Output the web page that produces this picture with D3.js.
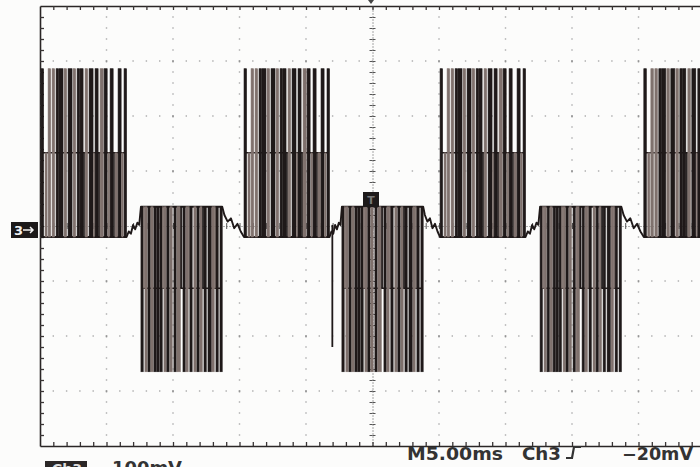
<!DOCTYPE html>
<html><head><meta charset="utf-8">
<script src="https://cdn.jsdelivr.net/npm/d3@7"></script>
<style>
html,body{margin:0;padding:0;background:#fcfcfb;}
svg{display:block;}
</style></head><body>
<svg id="scope" width="700" height="467"></svg>
<script>
// Screen scales: 10 divisions of 5 ms, 8 divisions of 100 mV
const msPerDiv = 5, timeDivs = 10;
const mvPerDiv = 100, voltDivs = 8;

// Switching bursts: start time (ms) and polarity of each half-cycle
const burstStart = [0.08, 7.59, 15.34, 22.7, 30.08, 37.6, 45.4];
const burstPolarity = [1, -1, 1, -1, 1, -1, 1];

// Voltage levels (mV): resting level, intermediate step, outer level
const posLevels = {base: -20, mid: 133, far: 286};
const negLevels = {base: 35, mid: -113, far: -265};

// Positive half-cycle pulse train: offset (ms), width (ms), shade, reach (F = outer, M = step)
const posOffset = [0,0.30,0.53,0.83,1.13,1.35,1.73,2.03,2.41,2.71,2.93,3.18,3.31,3.61,3.95,4.06,4.32,4.44,4.74,5.04,5.19,5.45,5.56,5.79,6.07,6.24];
const posWidth  = [0.19,0.15,0.19,0.19,0.19,0.30,0.19,0.30,0.19,0.19,0.23,0.10,0.19,0.30,0.08,0.23,0.10,0.23,0.23,0.10,0.23,0.08,0.19,0.23,0.10,0.19];
const posShade  = ['d','g','g','g','d','d','g','d','g','d','d','d','g','d','g','d','d','g','d','g','d','d','g','d','g','d'];
const posReach  = ['F','M','F','F','F','F','F','F','F','F','F','M','F','F','M','F','M','F','F','M','F','M','M','F','M','F'];

// Negative half-cycle pulse train
const negOffset = [0,0.19,0.30,0.53,0.75,0.98,1.20,1.43,1.62,1.73,1.95,2.18,2.48,2.71,2.98,3.16,3.38,3.57,3.68,3.98,4.21,4.44,4.63,4.74,5.04,5.34,5.53,5.64,5.94];
const negWidth  = [0.17,0.09,0.17,0.17,0.17,0.17,0.17,0.17,0.09,0.17,0.17,0.17,0.17,0.25,0.10,0.17,0.17,0.09,0.17,0.17,0.17,0.17,0.09,0.17,0.25,0.17,0.09,0.17,0.17];
const negShade  = ['d','g','g','d','g','d','d','d','g','g','d','g','d','g','d','d','g','g','d','g','d','g','d','d','d','g','g','d','d'];
const negReach  = ['F','M','F','F','F','F','F','F','M','F','F','F','F','F','M','F','F','M','F','F','F','F','M','F','F','F','M','F','F'];

// Settling ripple between bursts: fraction of the gap, level (mV)
const posToNegFrac = [0, 0.15, 0.3, 0.45, 0.6, 0.75, 0.88, 1];
const posToNegMv   = [-20, -10, -14, 2, -6, 6, 2, 35];
const negToPosFrac = [0, 0.1, 0.25, 0.4, 0.55, 0.7, 0.85, 1];
const negToPosMv   = [35, 20, 8, 14, -4, 4, -10, -20];

// Isolated spike between the third and fourth bursts
const spikeTime = [21.98];
const spikeMv = [-220];

// Readout text
const readoutMain = ["M5.00ms", "Ch3", "\u221220mV"];
const readoutScale = "100mV";

const colors = {d: "#1f1919", g: "#7f716d"};

const svg = d3.select("#scope");
const W = 700, H = 467;
const x = d3.scaleLinear().domain([0, msPerDiv * timeDivs]).range([40, 705]);
const y = d3.scaleLinear().domain([-mvPerDiv * voltDivs / 2, mvPerDiv * voltDivs / 2]).range([446, 6]);

svg.append("rect").attr("width", W).attr("height", H).attr("fill", "#fcfcfb");

svg.append("defs").append("clipPath").attr("id", "screen")
  .append("rect").attr("x", 40).attr("y", 0).attr("width", 665).attr("height", 452);

// ---- graticule dots ----
const grid = svg.append("g");
const minorMv = d3.range(-380, 400, 20);
const minorMs = d3.range(1, 50, 1);
d3.range(5, 50, 5).filter(t => t !== 25).forEach(t => {
  grid.selectAll(null).data(minorMv).join("rect")
    .attr("x", x(t) - 0.7).attr("y", d => y(d) - 0.7)
    .attr("width", 1.4).attr("height", d => d % 100 === 0 ? 2 : 1.4)
    .attr("fill", d => d % 100 === 0 ? "#666" : "#aaa");
});
d3.range(-300, 400, 100).filter(v => v !== 0).forEach(v => {
  grid.selectAll(null).data(minorMs).join("rect")
    .attr("x", d => x(d) - 0.7).attr("y", y(v) - 0.7)
    .attr("width", 1.4).attr("height", 1.4)
    .attr("fill", "#aaa");
});

// ---- centre cross axes ----
const cx = x(25), cy = y(0);
const vAxisL = svg.append("g").attr("transform", `translate(${cx},0)`)
  .call(d3.axisLeft(y).tickValues(minorMv).tickSize(3).tickSizeOuter(0).tickFormat(""));
const vAxisR = svg.append("g").attr("transform", `translate(${cx},0)`)
  .call(d3.axisRight(y).tickValues(minorMv).tickSize(3).tickSizeOuter(0).tickFormat(""));
const hAxisT = svg.append("g").attr("transform", `translate(0,${cy})`)
  .call(d3.axisTop(x).tickValues(minorMs).tickSize(3).tickSizeOuter(0).tickFormat(""));
const hAxisB = svg.append("g").attr("transform", `translate(0,${cy})`)
  .call(d3.axisBottom(x).tickValues(minorMs).tickSize(3).tickSizeOuter(0).tickFormat(""));
[vAxisL, vAxisR, hAxisT, hAxisB].forEach(g => {
  g.select(".domain").attr("stroke", "#999").attr("stroke-dasharray", "1,2");
  g.selectAll(".tick line").attr("stroke", "#555").attr("stroke-width", 1);
});

// ---- border with inward ticks ----
const bTop = svg.append("g").attr("transform", "translate(0,6)")
  .call(d3.axisBottom(x).tickValues(minorMs).tickSize(4).tickSizeOuter(0).tickFormat(""));
const bBot = svg.append("g").attr("transform", "translate(0,446)")
  .call(d3.axisTop(x).tickValues(minorMs).tickSize(4).tickSizeOuter(0).tickFormat(""));
const bLeft = svg.append("g").attr("transform", "translate(40,0)")
  .call(d3.axisRight(y).tickValues(minorMv).tickSize(4).tickSizeOuter(0).tickFormat(""));
[bTop, bBot, bLeft].forEach(g => {
  g.select(".domain").attr("stroke", "#2a2626").attr("stroke-width", 1.6);
  g.selectAll(".tick line").attr("stroke", "#3a3535").attr("stroke-width", 1.3);
});

// ---- trace ----
const trace = svg.append("g").attr("clip-path", "url(#screen)");

const patterns = {
  "1":  {off: posOffset, wid: posWidth, shade: posShade, reach: posReach, lv: posLevels},
  "-1": {off: negOffset, wid: negWidth, shade: negShade, reach: negReach, lv: negLevels}
};
const burstEnd = burstStart.map((s, i) => {
  const p = patterns[burstPolarity[i]];
  const n = p.off.length - 1;
  return s + p.off[n] + p.wid[n];
});

// continuous resting trace with settling ripple between bursts
const tracePts = [];
burstStart.forEach((s, i) => {
  const lv = patterns[burstPolarity[i]].lv;
  tracePts.push([s, lv.base], [burstEnd[i], lv.base]);
  if (i < burstStart.length - 1) {
    const gap = burstStart[i + 1] - burstEnd[i];
    const fr = burstPolarity[i] > 0 ? posToNegFrac : negToPosFrac;
    const mv = burstPolarity[i] > 0 ? posToNegMv : negToPosMv;
    fr.forEach((f, k) => tracePts.push([burstEnd[i] + f * gap, mv[k]]));
  }
});
const line = d3.line().x(d => x(d[0])).y(d => y(d[1]));
trace.append("path").attr("d", line(tracePts))
  .attr("fill", "none").attr("stroke", colors.d).attr("stroke-width", 1.9).attr("stroke-linejoin", "round");

// intermediate step level inside each burst
burstStart.forEach((s, i) => {
  const lv = patterns[burstPolarity[i]].lv;
  trace.append("path").attr("d", line([[s + 0.1, lv.mid], [burstEnd[i] - 0.05, lv.mid]]))
    .attr("fill", "none").attr("stroke", colors.d).attr("stroke-width", 1.5);
});

// switching pulses
burstStart.forEach((s, i) => {
  const p = patterns[burstPolarity[i]];
  const bars = p.off.map((o, k) => ({
    t0: s + o, t1: s + o + p.wid[k], shade: p.shade[k],
    v0: p.lv.base, v1: p.reach[k] === "F" ? p.lv.far : p.lv.mid
  }));
  trace.append("g").selectAll("rect").data(bars).join("rect")
    .attr("x", d => x(d.t0))
    .attr("width", d => Math.max(0.8, x(d.t1) - x(d.t0)))
    .attr("y", d => Math.min(y(d.v0), y(d.v1)))
    .attr("height", d => Math.abs(y(d.v1) - y(d.v0)))
    .attr("fill", d => colors[d.shade])
    .attr("stroke", d => colors[d.shade]).attr("stroke-width", 0.6);
});

// isolated spike
spikeTime.forEach((t, k) => {
  trace.append("path").attr("d", line([[t, 2], [t, spikeMv[k]]]))
    .attr("stroke", colors.d).attr("stroke-width", 1.8).attr("fill", "none");
});

// ---- markers ----
// channel ground marker
svg.append("rect").attr("x", 11).attr("y", 222).attr("width", 27).attr("height", 16).attr("fill", "#1d1a1a");
svg.append("text").attr("x", 14).attr("y", 235).text("3")
  .attr("font-family", "DejaVu Sans").attr("font-weight", "bold").attr("font-size", 13).attr("fill", "#f4f4f4");
svg.append("path").attr("d", "M23,230 L33,230 M30,227 L33,230 L30,233")
  .attr("stroke", "#f4f4f4").attr("stroke-width", 1.5).attr("fill", "none");

// trigger position marker
svg.append("rect").attr("x", 363).attr("y", 192).attr("width", 16).attr("height", 15).attr("fill", "#1d1a1a");
svg.append("text").attr("x", 371).attr("y", 204).attr("text-anchor", "middle").text("T")
  .attr("font-family", "DejaVu Sans").attr("font-weight", "bold").attr("font-size", 11).attr("fill", "#777");
svg.append("path").attr("d", "M368,0 L374,0 L371,4 Z").attr("fill", "#444");

// ---- readout ----
const font = "DejaVu Sans";
const readout = svg.append("g").attr("font-family", font).attr("font-weight", "bold")
  .attr("font-size", 17).attr("fill", "#333");
readout.append("text").attr("x", 407).attr("y", 460).attr("textLength", 96).attr("lengthAdjust", "spacingAndGlyphs").text(readoutMain[0]);
readout.append("text").attr("x", 522).attr("y", 460).attr("textLength", 39).attr("lengthAdjust", "spacingAndGlyphs").text(readoutMain[1]);
readout.append("text").attr("x", 622).attr("y", 460).attr("textLength", 71).attr("lengthAdjust", "spacingAndGlyphs").text(readoutMain[2]);
// rising-edge trigger symbol
svg.append("path").attr("d", "M566,458 L572,458 L574,447 L581,447")
  .attr("stroke", "#333").attr("stroke-width", 2.2).attr("fill", "none");

// channel scale readout along the bottom edge
svg.append("rect").attr("x", 45).attr("y", 461).attr("width", 42).attr("height", 16).attr("fill", "#2b2727");
svg.append("text").attr("x", 52).attr("y", 474).text("Ch3")
  .attr("font-family", font).attr("font-weight", "bold").attr("font-size", 14).attr("fill", "#ddd");
svg.append("text").attr("x", 112).attr("y", 474).attr("textLength", 70).attr("lengthAdjust", "spacingAndGlyphs").text(readoutScale)
  .attr("font-family", font).attr("font-weight", "bold").attr("font-size", 17).attr("fill", "#333");
</script>
</body></html>
